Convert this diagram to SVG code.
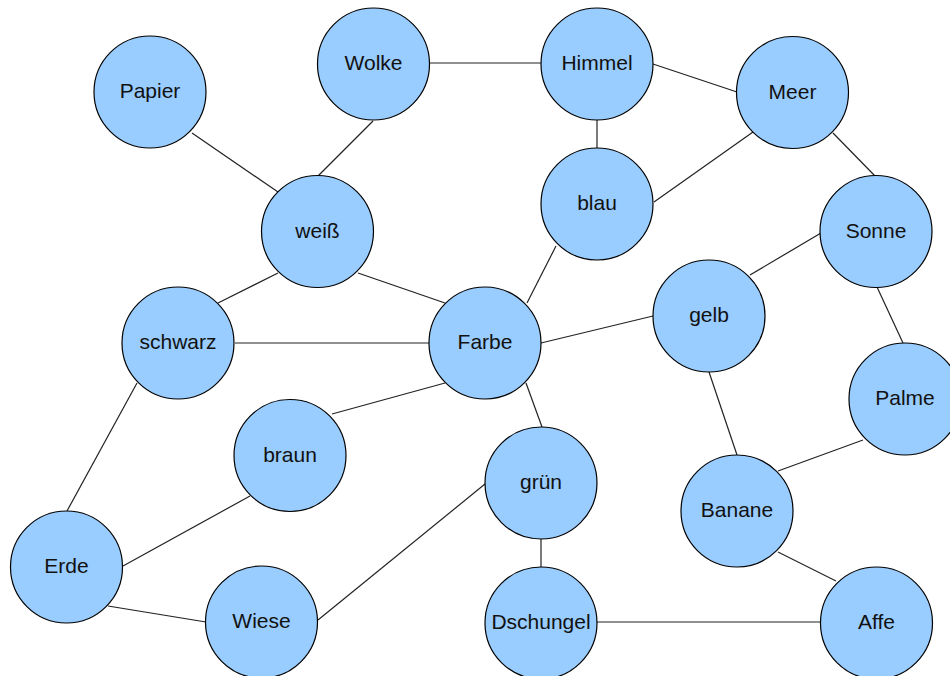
<svg xmlns="http://www.w3.org/2000/svg" width="950" height="676" viewBox="0 0 950 676">
<style>
.n circle{fill:#99ccff;stroke:#000;stroke-width:1.2}
.n text{font-family:"Liberation Sans",Arial,sans-serif;font-size:21px;fill:#111;text-anchor:middle}
#edges line{stroke:#222;stroke-width:1.2}
</style>
<rect width="950" height="676" fill="#fff"/>
<g id="edges">
<line x1="430" y1="63" x2="541" y2="63"/>
<line x1="653" y1="64" x2="737" y2="92"/>
<line x1="597" y1="120" x2="597" y2="148"/>
<line x1="654" y1="202" x2="753" y2="132"/>
<line x1="833" y1="133" x2="875" y2="176"/>
<line x1="192" y1="133" x2="278" y2="192"/>
<line x1="373" y1="121" x2="318" y2="176"/>
<line x1="278" y1="273" x2="218" y2="303"/>
<line x1="358" y1="273" x2="445" y2="303"/>
<line x1="235" y1="343" x2="429" y2="343"/>
<line x1="556" y1="246" x2="527" y2="303"/>
<line x1="541" y1="343" x2="653" y2="316"/>
<line x1="821" y1="233" x2="750" y2="275"/>
<line x1="877" y1="287" x2="903" y2="343"/>
<line x1="445" y1="383" x2="332" y2="414"/>
<line x1="526" y1="383" x2="542" y2="427"/>
<line x1="709" y1="372" x2="737" y2="455"/>
<line x1="863" y1="440" x2="778" y2="471"/>
<line x1="137" y1="383" x2="67" y2="511"/>
<line x1="250" y1="496" x2="123" y2="566"/>
<line x1="108" y1="606" x2="206" y2="622"/>
<line x1="318" y1="620" x2="485" y2="484"/>
<line x1="541" y1="539" x2="541" y2="567"/>
<line x1="597" y1="622" x2="821" y2="622"/>
<line x1="778" y1="552" x2="836" y2="581"/>
</g>
<g id="Papier" class="n"><circle cx="150" cy="92" r="56"/><text x="150" y="98">Papier</text></g>
<g id="Wolke" class="n"><circle cx="373.5" cy="64" r="56"/><text x="373.5" y="70">Wolke</text></g>
<g id="Himmel" class="n"><circle cx="597" cy="64" r="56"/><text x="597" y="70">Himmel</text></g>
<g id="Meer" class="n"><circle cx="792.5" cy="92.5" r="56"/><text x="792.5" y="98.5">Meer</text></g>
<g id="weiss" class="n"><circle cx="317.5" cy="231.5" r="56"/><text x="317.5" y="237.5">weiß</text></g>
<g id="blau" class="n"><circle cx="597" cy="204" r="56"/><text x="597" y="210">blau</text></g>
<g id="Sonne" class="n"><circle cx="876" cy="231.5" r="56"/><text x="876" y="237.5">Sonne</text></g>
<g id="schwarz" class="n"><circle cx="178" cy="343" r="56"/><text x="178" y="349">schwarz</text></g>
<g id="Farbe" class="n"><circle cx="485" cy="343" r="56"/><text x="485" y="349">Farbe</text></g>
<g id="gelb" class="n"><circle cx="709" cy="316" r="56"/><text x="709" y="322">gelb</text></g>
<g id="Palme" class="n"><circle cx="905" cy="399" r="56"/><text x="905" y="405">Palme</text></g>
<g id="braun" class="n"><circle cx="290" cy="455.5" r="56"/><text x="290" y="461.5">braun</text></g>
<g id="gruen" class="n"><circle cx="541" cy="483" r="56"/><text x="541" y="489">grün</text></g>
<g id="Banane" class="n"><circle cx="737" cy="511" r="56"/><text x="737" y="517">Banane</text></g>
<g id="Erde" class="n"><circle cx="66.5" cy="567" r="56"/><text x="66.5" y="573">Erde</text></g>
<g id="Wiese" class="n"><circle cx="261.5" cy="622" r="56"/><text x="261.5" y="628">Wiese</text></g>
<g id="Dschungel" class="n"><circle cx="541" cy="623" r="56"/><text x="541" y="629">Dschungel</text></g>
<g id="Affe" class="n"><circle cx="876.5" cy="623" r="56"/><text x="876.5" y="629">Affe</text></g>
</svg>
